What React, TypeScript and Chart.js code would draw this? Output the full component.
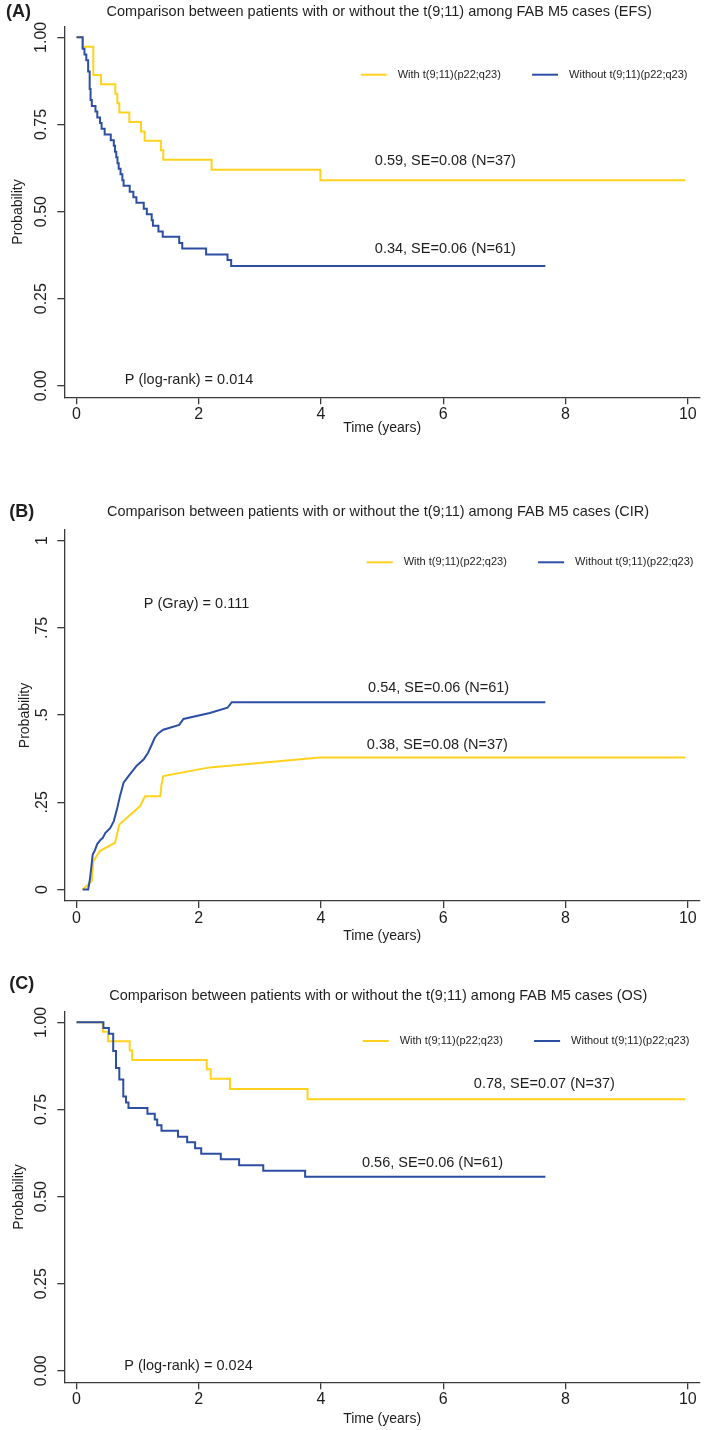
import React, { useEffect, useRef } from 'react';
import { Chart, registerables } from 'chart.js';

Chart.register(...registerables);

const FONT = '"Liberation Sans", Arial, Helvetica, sans-serif';
const YELLOW = '#FFD21E';
const BLUE = '#2C4EA3';
const AXIS = '#3a3a3a';
const TEXT = '#1e1e1e';

// ---------- shared axis data ----------
const xTickValues = [0, 2, 4, 6, 8, 10];
const xTickLabels = ['0', '2', '4', '6', '8', '10'];
const yTickValues = [0, 0.25, 0.5, 0.75, 1];
const yTickLabelsKM = ['0.00', '0.25', '0.50', '0.75', '1.00'];
const yTickLabelsCIR = ['0', '.25', '.5', '.75', '1'];
const seriesLabels = ['With t(9;11)(p22;q23)', 'Without t(9;11)(p22;q23)'];

// ---------- (A) EFS ----------
const efsWithTime = [0, 0.10, 0.275, 0.40, 0.635, 0.667, 0.70, 0.864, 1.055, 1.115, 1.38, 1.42, 2.21, 3.99, 9.96];
const efsWithProb = [1, 0.973, 0.892, 0.865, 0.838, 0.811, 0.784, 0.757, 0.730, 0.703, 0.676, 0.649, 0.620, 0.590, 0.590];
const efsWithoutTime = [0, 0.10, 0.13, 0.16, 0.19, 0.215, 0.23, 0.25, 0.31, 0.34, 0.385, 0.41, 0.46, 0.56, 0.61, 0.63, 0.65, 0.67, 0.69, 0.72, 0.75, 0.77, 0.87, 0.93, 0.98, 1.10, 1.15, 1.23, 1.25, 1.34, 1.41, 1.68, 1.73, 2.12, 2.47, 2.53, 7.67];
const efsWithoutProb = [1, 0.967, 0.951, 0.934, 0.902, 0.852, 0.820, 0.803, 0.787, 0.770, 0.754, 0.738, 0.721, 0.705, 0.689, 0.672, 0.656, 0.639, 0.623, 0.607, 0.590, 0.574, 0.557, 0.541, 0.525, 0.508, 0.492, 0.475, 0.459, 0.443, 0.428, 0.410, 0.394, 0.377, 0.361, 0.344, 0.344];

// ---------- (B) CIR ----------
const cirWithTime = [0.10, 0.25, 0.275, 0.38, 0.63, 0.70, 1.04, 1.12, 1.37, 1.39, 1.42, 2.18, 3.98, 9.96];
const cirWithProb = [0, 0.024, 0.081, 0.110, 0.134, 0.186, 0.239, 0.267, 0.267, 0.300, 0.325, 0.350, 0.378, 0.378];
const cirWithoutTime = [0.10, 0.19, 0.22, 0.265, 0.30, 0.34, 0.395, 0.43, 0.47, 0.55, 0.61, 0.66, 0.71, 0.77, 0.85, 0.985, 1.10, 1.17, 1.23, 1.28, 1.34, 1.42, 1.68, 1.75, 2.18, 2.47, 2.54, 7.67];
const cirWithoutProb = [0, 0, 0.03, 0.100, 0.112, 0.131, 0.143, 0.148, 0.162, 0.176, 0.196, 0.229, 0.267, 0.306, 0.325, 0.355, 0.373, 0.392, 0.415, 0.435, 0.448, 0.458, 0.472, 0.489, 0.506, 0.521, 0.537, 0.537];

// ---------- (C) OS ----------
const osWithTime = [0, 0.43, 0.515, 0.87, 0.91, 2.13, 2.195, 2.51, 3.78, 9.96];
const osWithProb = [1, 0.973, 0.946, 0.919, 0.892, 0.865, 0.838, 0.809, 0.779, 0.779];
const osWithoutTime = [0, 0.44, 0.53, 0.60, 0.646, 0.70, 0.765, 0.81, 0.85, 1.16, 1.28, 1.32, 1.39, 1.66, 1.81, 1.94, 2.04, 2.36, 2.66, 3.055, 3.74, 7.67];
const osWithoutProb = [1, 0.984, 0.967, 0.918, 0.869, 0.836, 0.787, 0.770, 0.754, 0.738, 0.721, 0.705, 0.689, 0.672, 0.656, 0.639, 0.623, 0.607, 0.590, 0.574, 0.557, 0.557];

// ---------- texts ----------
const titleA = 'Comparison between patients with or without the t(9;11) among FAB M5 cases (EFS)';
const titleB = 'Comparison between patients with or without the t(9;11) among FAB M5 cases (CIR)';
const titleC = 'Comparison between patients with or without the t(9;11) among FAB M5 cases (OS)';
const notesA = ['0.59, SE=0.08 (N=37)', '0.34, SE=0.06 (N=61)', 'P (log-rank) = 0.014'];
const notesB = ['P (Gray) = 0.111', '0.54, SE=0.06 (N=61)', '0.38, SE=0.08 (N=37)'];
const notesC = ['0.78, SE=0.07 (N=37)', '0.56, SE=0.06 (N=61)', 'P (log-rank) = 0.024'];

type Note = { text: string; t: number; s: number };
type Panel = {
  letter: string;
  title: string;
  yLabels: string[];
  withT: number[]; withS: number[];
  withoutT: number[]; withoutS: number[];
  stepped: boolean;
  canvasTop: number; canvasH: number;
  chartTop: number; chartBottom: number;
  yTickPad: number; yTitlePad: number; xTitleOffset: number;
  letterX: number; letterY: number; titleX: number; titleY: number;
  legendX: number; legendY: number;
  notes: Note[];
};

const panels: Panel[] = [
  {
    letter: '(A)', title: titleA, yLabels: yTickLabelsKM,
    withT: efsWithTime, withS: efsWithProb, withoutT: efsWithoutTime, withoutS: efsWithoutProb,
    stepped: true,
    canvasTop: 0, canvasH: 455, chartTop: 26.7, chartBottom: 397.3,
    yTickPad: 0, yTitlePad: 9.9, xTitleOffset: 31,
    letterX: 6, letterY: 12, titleX: 379.2, titleY: 12,
    legendX: 360.7, legendY: 74.7,
    notes: [
      { text: notesA[0], t: 4.88, s: 0.644 },
      { text: notesA[1], t: 4.88, s: 0.392 },
      { text: notesA[2], t: 0.79, s: 0.018 },
    ],
  },
  {
    letter: '(B)', title: titleB, yLabels: yTickLabelsCIR,
    withT: cirWithTime, withS: cirWithProb, withoutT: cirWithoutTime, withoutS: cirWithoutProb,
    stepped: false,
    canvasTop: 455, canvasH: 495, chartTop: 75, chartBottom: 446,
    yTickPad: 4, yTitlePad: 17.1, xTitleOffset: 35,
    letterX: 9.3, letterY: 56.7, titleX: 378, titleY: 57.3,
    legendX: 366.7, legendY: 107.3,
    notes: [
      { text: notesB[0], t: 1.10, s: 0.819 },
      { text: notesB[1], t: 4.77, s: 0.578 },
      { text: notesB[2], t: 4.75, s: 0.413 },
    ],
  },
  {
    letter: '(C)', title: titleC, yLabels: yTickLabelsKM,
    withT: osWithTime, withS: osWithProb, withoutT: osWithoutTime, withoutS: osWithoutProb,
    stepped: true,
    canvasTop: 950, canvasH: 480, chartTop: 61.7, chartBottom: 432.3,
    yTickPad: 0, yTitlePad: 10.8, xTitleOffset: 37,
    letterX: 9.3, letterY: 34, titleX: 378.3, titleY: 46,
    legendX: 362.7, legendY: 91,
    notes: [
      { text: notesC[0], t: 6.50, s: 0.822 },
      { text: notesC[1], t: 4.67, s: 0.597 },
      { text: notesC[2], t: 0.78, s: 0.013 },
    ],
  },
];

const Y_AXIS_W = 64.3;
const X_AXIS_H = 45;
const CANVAS_W = 709;

function textPlugin(p: Panel) {
  return {
    id: 'kmText',
    afterDraw(chart: any) {
      const ctx: CanvasRenderingContext2D = chart.ctx;
      const xs = chart.scales.x;
      const ys = chart.scales.y;
      ctx.save();
      ctx.fillStyle = TEXT;
      ctx.textBaseline = 'middle';
      // panel letter
      ctx.font = `bold 18px ${FONT}`;
      ctx.textAlign = 'left';
      ctx.fillText(p.letter, p.letterX, p.letterY);
      // title
      ctx.font = `14.5px ${FONT}`;
      ctx.textAlign = 'center';
      ctx.fillText(p.title, p.titleX, p.titleY);
      // legend
      const ds = chart.data.datasets;
      const offsets = [0, 171.4];
      ds.forEach((d: any, i: number) => {
        const x0 = p.legendX + offsets[i];
        ctx.strokeStyle = d.borderColor;
        ctx.lineWidth = 2;
        ctx.beginPath();
        ctx.moveTo(x0, p.legendY);
        ctx.lineTo(x0 + 26, p.legendY);
        ctx.stroke();
        ctx.font = `11px ${FONT}`;
        ctx.textAlign = 'left';
        ctx.fillStyle = TEXT;
        ctx.fillText(d.label, x0 + 37, p.legendY);
      });
      // annotations
      ctx.font = `14.5px ${FONT}`;
      ctx.textAlign = 'left';
      ctx.fillStyle = TEXT;
      p.notes.forEach((n) => {
        ctx.fillText(n.text, xs.getPixelForValue(n.t), ys.getPixelForValue(n.s));
      });
      ctx.restore();
    },
  };
}

function makeConfig(p: Panel): any {
  const toPts = (t: number[], s: number[]) => t.map((v, i) => ({ x: v, y: s[i] }));
  return {
    type: 'line',
    data: {
      datasets: [
        {
          label: seriesLabels[0],
          data: toPts(p.withT, p.withS),
          borderColor: YELLOW,
          backgroundColor: YELLOW,
          borderWidth: 2,
          pointRadius: 0,
          stepped: p.stepped ? 'before' : false,
          tension: 0,
          fill: false,
          order: 1,
        },
        {
          label: seriesLabels[1],
          data: toPts(p.withoutT, p.withoutS),
          borderColor: BLUE,
          backgroundColor: BLUE,
          borderWidth: 2,
          pointRadius: 0,
          stepped: p.stepped ? 'before' : false,
          tension: 0,
          fill: false,
          order: 0,
        },
      ],
    },
    options: {
      animation: false,
      responsive: false,
      maintainAspectRatio: false,
      events: [],
      layout: {
        padding: {
          left: 0,
          right: CANVAS_W - 700,
          top: p.chartTop,
          bottom: p.canvasH - p.chartBottom - X_AXIS_H,
        },
      },
      plugins: {
        legend: { display: false },
        title: { display: false },
        tooltip: { enabled: false },
      },
      scales: {
        x: {
          type: 'linear',
          min: -0.2,
          max: 10.2,
          afterFit: (s: any) => { s.height = X_AXIS_H; },
          afterBuildTicks: (s: any) => { s.ticks = xTickValues.map((v) => ({ value: v })); },
          ticks: {
            autoSkip: false,
            maxRotation: 0,
            minRotation: 0,
            padding: 1,
            color: TEXT,
            font: { family: FONT, size: 16 },
            callback: (v: number) => xTickLabels[xTickValues.indexOf(v)],
          },
          grid: { drawOnChartArea: false, drawTicks: true, tickLength: 7, color: AXIS, lineWidth: 1.3 },
          border: { display: true, color: AXIS, width: 1.3 },
          title: {
            display: true,
            text: 'Time (years)',
            color: TEXT,
            font: { family: FONT, size: 14 },
            padding: { top: 0, bottom: X_AXIS_H - 8.4 - p.xTitleOffset },
          },
        },
        y: {
          type: 'linear',
          min: -0.033,
          max: 1.0305,
          afterFit: (s: any) => { s.width = Y_AXIS_W; },
          afterBuildTicks: (s: any) => { s.ticks = yTickValues.map((v) => ({ value: v })); },
          ticks: {
            autoSkip: false,
            minRotation: 90,
            maxRotation: 90,
            crossAlign: 'center',
            padding: p.yTickPad,
            color: TEXT,
            font: { family: FONT, size: 16 },
            callback: (v: number) => p.yLabels[yTickValues.indexOf(v)],
          },
          grid: { drawOnChartArea: false, drawTicks: true, tickLength: 7, color: AXIS, lineWidth: 1.3 },
          border: { display: true, color: AXIS, width: 1.3 },
          title: {
            display: true,
            text: 'Probability',
            color: TEXT,
            font: { family: FONT, size: 14 },
            padding: { top: p.yTitlePad, bottom: 0 },
          },
        },
      },
    },
    plugins: [textPlugin(p)],
  };
}

function KMPanel({ panel }: { panel: Panel }) {
  const ref = useRef<HTMLCanvasElement | null>(null);
  useEffect(() => {
    if (!ref.current) return;
    const chart = new Chart(ref.current, makeConfig(panel));
    return () => chart.destroy();
  }, [panel]);
  return (
    <canvas
      ref={ref}
      width={CANVAS_W}
      height={panel.canvasH}
      style={{ position: 'absolute', left: 0, top: panel.canvasTop, width: CANVAS_W, height: panel.canvasH, display: 'block' }}
    />
  );
}

export default function App() {
  return (
    <div style={{ position: 'absolute', left: 0, top: 0, width: CANVAS_W, height: 1430, background: '#ffffff', overflow: 'hidden' }}>
      {panels.map((p) => (
        <KMPanel key={p.letter} panel={p} />
      ))}
    </div>
  );
}
